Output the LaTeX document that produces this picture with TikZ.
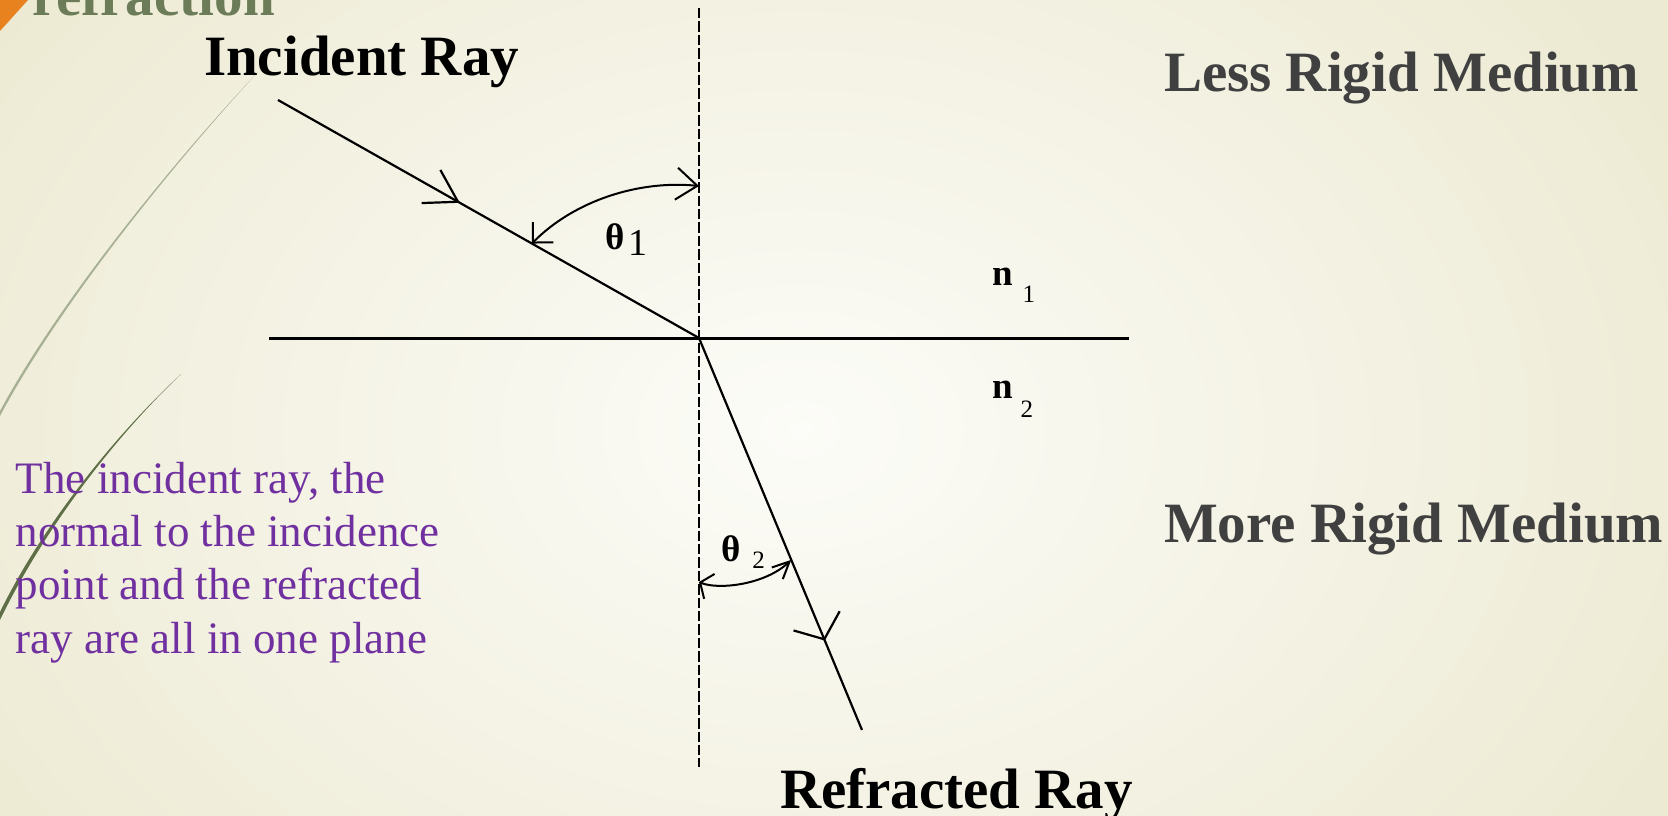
\documentclass[tikz,border=0pt]{standalone}
\usepackage{fontspec}
\setmainfont{Liberation Serif}
\usetikzlibrary{arrows.meta, decorations.markings, calc}

\definecolor{paperedge}{RGB}{237,234,211}
\definecolor{papermid}{RGB}{252,252,248}
\definecolor{titlegreen}{RGB}{108,124,88}
\definecolor{accentorange}{RGB}{232,130,30}
\definecolor{notepurple}{RGB}{112,48,160}
\definecolor{mediumgray}{RGB}{64,64,64}
\definecolor{leafpale}{RGB}{168,176,148}
\definecolor{leafdark}{RGB}{94,110,70}

\begin{document}
\begin{tikzpicture}[
  x=1pt, y=-1pt,
  every node/.style={inner sep=0pt, outer sep=0pt},
  bigbold/.style={anchor=base west, font=\fontsize{57}{60}\selectfont\bfseries},
  medium/.style={bigbold, text=mediumgray},
  raylabel/.style={bigbold, text=black},
  note/.style={anchor=base west, align=left, text=notepurple,
               font=\fontsize{45}{53.3}\selectfont},
  anglelabel/.style={anchor=base west, font=\fontsize{37}{37}\selectfont\bfseries},
  indexlabel/.style={anchor=base west, font=\fontsize{37}{37}\selectfont\bfseries},
  normalline/.style={line width=2.3pt, dash pattern=on 10.4pt off 3pt},
  boundary/.style={line width=3pt},
  ray/.style={line width=2.2pt},
  anglearc/.style={line width=2pt},
  raytip/.style={postaction={decorate}, decoration={markings,
      mark=at position #1 with {\arrow{Straight Barb[length=31pt,width=38pt]}}}},
  outtip/.style={postaction={decorate}, decoration={markings,
      mark=at position #1 with {\arrow{Straight Barb[length=20pt,width=50pt]}}}}
]
\useasboundingbox (0,0) rectangle (1668,815);

% slide background
\fill[paperedge] (-5,-5) rectangle (1673,820);
\begin{scope}
  \clip (-5,-5) rectangle (1673,820);
  \shade[inner color=papermid, outer color=paperedge] (800,430) ellipse (980 and 720);
\end{scope}

\fill[accentorange] (0,0) -- (28,0) -- (0,31) -- cycle;
\node[bigbold, text=titlegreen] (title) at (32,15) {refraction};

\fill[leafpale] (258,72) .. controls (175,160) and (60,300) .. (0,411)
  -- (0,416) .. controls (61,302) and (176,161) .. (258,72) -- cycle;
\fill[leafdark] (181,374) .. controls (110,440) and (40,530) .. (0,612)
  -- (0,620) .. controls (42,533) and (111,441) .. (181,374) -- cycle;

% rays, normal and boundary
\coordinate (O) at (699,338);
\coordinate (src) at (278,100);
\coordinate (dst) at (862,730);
\coordinate (ntop) at (699,8);
\coordinate (nbot) at (699,767);
\coordinate (bleft) at (269,338);
\coordinate (bright) at (1129,338);

\draw[normalline] (ntop) -- (nbot);
\draw[boundary] (bleft) -- (bright);
\draw[ray, raytip=0.432] (src) -- (O);
\draw[ray, outtip=0.772] (O) -- (dst);

% angles
\coordinate (a1) at ($(src)!0.603!(O)$);
\coordinate (b1) at (699,186);
\coordinate (a2) at (699,582);
\coordinate (b2) at ($(O)!0.566!(dst)$);

\draw[anglearc, {Straight Barb[length=14.5pt,width=29pt]}-{Straight Barb[length=21pt,width=32pt]}]
  (a1) .. controls (575,200) and (640,180) .. (b1);
\draw[anglearc, {Straight Barb[length=10pt,width=27pt]}-{Straight Barb[length=17pt,width=16pt]}]
  (a2) .. controls (718,590) and (765,585) .. (b2);

\node[anglelabel] (theta1) at (605,249) {θ\kern4pt\raisebox{-6pt}{\fontsize{38}{38}\selectfont\mdseries 1}};
\node[anglelabel] (theta2) at (721,561) {θ\kern12pt\raisebox{-7pt}{\fontsize{25}{25}\selectfont\mdseries 2}};
\node[indexlabel] (n1) at (992,285) {n\kern10pt\raisebox{-17pt}{\fontsize{25}{25}\selectfont\mdseries 1}};
\node[indexlabel] (n2) at (992,398) {n\kern8pt\raisebox{-19pt}{\fontsize{25}{25}\selectfont\mdseries 2}};

% labels
\node[raylabel] (incident) at (204,75) {Incident Ray};
\node[medium] (upper) at (1164,91) {Less Rigid Medium};
\node[medium] (lower) at (1164,542) {More Rigid Medium};
\node[raylabel] (refracted) at (780,808) {Refracted Ray};
\node[note] (rule) at (16,653) {The incident ray, the\\normal to the incidence\\point and the refracted\\ray are all in one plane};
\end{tikzpicture}
\end{document}
